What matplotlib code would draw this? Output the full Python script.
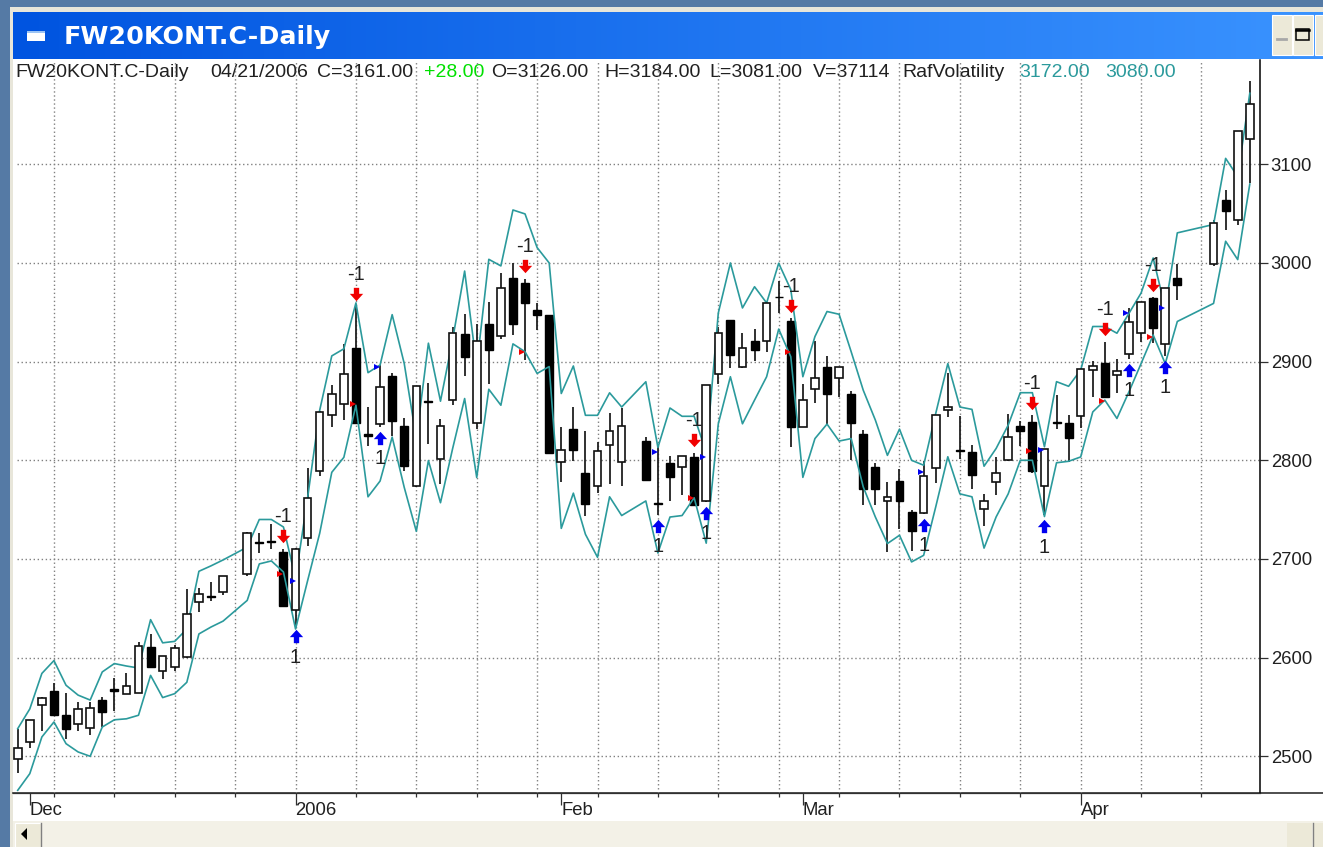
#!/usr/bin/python

# FW20KONT daily candles with the RafVolatility bands, in a trading-window frame

import matplotlib
matplotlib.use('Agg')
import matplotlib.pyplot as plt
from matplotlib.patches import Rectangle, Polygon
from matplotlib.path import Path
from matplotlib.transforms import offset_copy
import numpy as np

plt.rcParams['font.family'] = ['Liberation Sans', 'DejaVu Sans']
plt.rcParams['lines.scale_dashes'] = False

W, H = 1323, 847

# days without a bar are left empty on the x axis
no_bar = [18, 51, 97, 98]
days = [i for i in range(103) if i not in no_bar]

opens = [2497, 2514.5, 2552, 2566.5, 2542, 2532.5, 2528.4, 2557.4, 2568, 2563.5,
         2564.5, 2610.5, 2586.5, 2590.5, 2601, 2656, 2662, 2667,
         2684.8, 2717.5, 2718.5, 2707, 2648, 2721.6,
         2788.8, 2846, 2857.5, 2914, 2826.5, 2836.7, 2885, 2834.4, 2773.8, 2860,
         2801.4, 2861.6, 2927.6, 2838, 2938.4, 2925.9, 2985, 2979.6, 2952, 2947,
         2798.3, 2831.6, 2786.7, 2774, 2815, 2798.6,
         2819.4, 2756.5, 2797.6, 2792.9, 2803, 2758.8, 2887.4, 2942.5, 2895,
         2921, 2920.4, 2966, 2941.5, 2834, 2872.3, 2894.6, 2883, 2867.5, 2827,
         2792.7, 2759, 2779, 2747.7, 2747, 2792.4, 2851, 2810.8, 2808.6, 2751,
         2778.5, 2800, 2834.7, 2838.7, 2774.4, 2838.5, 2837.4, 2845, 2891.5, 2899,
         2886, 2907.8, 2929.5, 2964, 2917.6, 2984.7,
         2999.3, 3063.7, 3044, 3126]
closes = [2508, 2536.5, 2559.5, 2541.5, 2528, 2548, 2548.6, 2544.6, 2566, 2571.6,
          2611.5, 2590.5, 2601.7, 2610, 2644, 2664, 2661, 2683,
          2726.7, 2716.5, 2717.5, 2652.7, 2710.5, 2761.6,
          2849.3, 2867, 2887.8, 2838, 2825, 2873.8, 2839.5, 2793.9, 2875, 2859,
          2834.4, 2929, 2904.8, 2920.4, 2912, 2975, 2937.8, 2959.9, 2947.3, 2807.5,
          2810.9, 2810.5, 2755.4, 2809.5, 2830, 2834.4,
          2780, 2755.5, 2783.3, 2804, 2754.8, 2876.5, 2929, 2906.5, 2913.6,
          2912, 2959, 2965, 2834, 2861.6, 2883.8, 2866.8, 2894.6, 2838, 2771.4,
          2771.4, 2762.6, 2759, 2728, 2784.3, 2845.5, 2853.6, 2809.8, 2785, 2758.5,
          2787, 2823.9, 2830, 2789, 2811.3, 2837.5, 2823, 2893, 2896, 2863.7,
          2890, 2939.7, 2960, 2933.6, 2975, 2977.3,
          3040.7, 3052.2, 3133.6, 3161]
highs = [2528, 2537, 2560, 2574, 2564, 2555, 2555, 2560, 2579, 2584.5,
         2616, 2623.6, 2602, 2613, 2670, 2671, 2677, 2683,
         2727, 2726, 2735, 2710.5, 2711, 2792,
         2849.5, 2876, 2918, 2956, 2854, 2896.6, 2888, 2843, 2875, 2878.6,
         2841.5, 2934.7, 2948, 2938.4, 2960.5, 2989.5, 3000, 2984, 2959.5, 2947,
         2834, 2854, 2830, 2818.4, 2848, 2853.4,
         2823.5, 2813, 2804, 2804, 2807.5, 2876.5, 2934.7, 2942.5, 2929,
         2933, 2959, 2982, 2944, 2877, 2920.6, 2905.8, 2894.6, 2870, 2830.6,
         2796.8, 2778, 2791, 2749.4, 2799.5, 2845.5, 2888, 2845, 2816, 2765.6,
         2803.6, 2847, 2839.8, 2845.9, 2811.3, 2866, 2846, 2893, 2900.7, 2920,
         2902.7, 2954, 2960, 2965.4, 2975, 2999,
         3044, 3073.6, 3133.6, 3184]
lows = [2483, 2508, 2526, 2541, 2518, 2526, 2522, 2530, 2546, 2563,
        2564, 2590, 2578, 2586, 2600, 2646, 2657.5, 2663,
        2683, 2706, 2710.5, 2652, 2633, 2713,
        2784.4, 2833.7, 2840.5, 2838, 2814, 2834, 2825, 2788.8, 2773, 2816.7,
        2776, 2855.8, 2885.7, 2832, 2877.6, 2922.8, 2926.5, 2901.7, 2932.3, 2806.5,
        2777.6, 2799.7, 2743.5, 2766.7, 2775.8, 2773.5,
        2780, 2745, 2758.8, 2765, 2754, 2758, 2877, 2894, 2894,
        2901, 2910, 2949, 2813, 2834, 2858.4, 2836.7, 2863.8, 2800, 2755,
        2754.5, 2707, 2730, 2708, 2746, 2776.5, 2843.5, 2801, 2771.4, 2733,
        2764.6, 2799, 2814.7, 2787.3, 2744.3, 2831.3, 2798.5, 2833, 2863.7, 2863,
        2867.8, 2903, 2919.7, 2918.6, 2905.8, 2962,
        2996.6, 3032.9, 3038.6, 3081]

band_upper = [2528, 2548, 2584, 2597, 2572, 2562, 2557, 2585.5, 2594, 2591.5,
              2589.5, 2638.5, 2615, 2616.5, 2629, 2687.5, 2693, 2699,
              2712, 2740, 2740, 2732.4, 2680, 2762,
              2850.7, 2905.8, 2913, 2959.5, 2888.8, 2896.6, 2947.6, 2898, 2821.8, 2918.7,
              2859.9, 2922, 2991.8, 2895, 3003.7, 2997, 3053.7, 3049.7, 3015.6, 3000,
              2867.7, 2895.6, 2845.6, 2845.6, 2868.4, 2854,
              2879.6, 2813, 2853, 2844.6, 2844.6, 2808, 2949.3, 3000, 2954.4,
              2975.9, 2959.5, 2999.7, 2973, 2884.7, 2925.4, 2950.8, 2948, 2910, 2871,
              2840.8, 2805, 2831.6, 2800, 2795, 2847.5, 2898, 2854, 2851.6, 2794,
              2812, 2835.7, 2868.5, 2868.5, 2813.7, 2879.7, 2875, 2891.5, 2935.6, 2935.6,
              2928.8, 2949, 2969.5, 3005, 2954, 3030.5,
              3039, 3106, 3087.5, 3172]
band_lower = [2465.5, 2482.4, 2519.6, 2534.8, 2512.8, 2504.4, 2500, 2529.7, 2537, 2538,
              2541.6, 2582, 2559.5, 2563.5, 2575, 2624, 2631, 2637,
              2658, 2695, 2698, 2686.8, 2629, 2678,
              2726, 2787.8, 2803, 2855.8, 2763, 2779, 2823.5, 2772.5, 2728, 2799.7,
              2757, 2811.6, 2862.6, 2782.6, 2872, 2855.8, 2918, 2910, 2888, 2895,
              2731, 2766.7, 2725, 2701.7, 2763, 2744,
              2758.8, 2706, 2742.5, 2744, 2762, 2716, 2837, 2884.7, 2837,
              2861, 2884.7, 2933, 2905, 2782.7, 2822, 2836.7, 2819.5, 2822, 2773,
              2742.6, 2715.6, 2724, 2697, 2703.7, 2752.8, 2803.6, 2766, 2763, 2711,
              2742.6, 2766, 2800, 2800, 2743, 2797.5, 2799, 2803.4, 2849, 2861,
              2842.4, 2869.5, 2898, 2927, 2898, 2940.7,
              2959, 3022, 3003.4, 3080]

# signals: red arrows sit over the high, blue ones under the low
sell_days = [22, 28, 42, 56, 64, 84, 90, 94]
buy_days = [23, 30, 53, 57, 75, 85, 92, 95]
sell_marks = [2684.5, 2857.5, 2909.5, 2761.6, 2909.5, 2809, 2860, 2924.7]
buy_marks = [2678, 2895, 2808, 2803, 2788.5, 2810, 2949, 2954]

price_ticks = [2500, 2600, 2700, 2800, 2900, 3000, 3100]
grid_days = list(range(3, 103, 5))
month_days = [1, 23, 45, 65, 88]
month_labels = ['Dec', '2006', 'Feb', 'Mar', 'Apr']

TEAL = '#2b9a9c'
BEIGE = '#ece9d8'

header = [(15, 'FW20KONT.C-Daily', '#202020'), (210, '04/21/2006', '#202020'),
          (317, 'C=3161.00', '#202020'), (424, '+28.00', '#00e000'),
          (491, 'O=3126.00', '#202020'), (604, 'H=3184.00', '#202020'),
          (709, 'L=3081.00', '#202020'), (813, 'V=37114', '#202020'),
          (902, 'RafVolatility', '#202020'), (1019, '3172.00', TEAL), (1105, '3080.00', TEAL)]

fig = plt.figure(figsize=(W / 100, H / 100), dpi=100, facecolor='#557aa5')

# window frame, in pixels
frame = fig.add_axes([0, 0, 1, 1], zorder=0)
frame.set_xlim(0, W)
frame.set_ylim(H, 0)
frame.axis('off')
frame.add_patch(Rectangle((10, 7), W, H, fc='#e8e6da', ec='none'))
frame.add_patch(Rectangle((13, 12), W, H, fc='white', ec='none'))
grad = np.linspace(0, 1, 256).reshape(1, -1)
title_cmap = matplotlib.colors.LinearSegmentedColormap.from_list('t', ['#0054e0', '#3a93ff'])
frame.imshow(grad, extent=(13, W, 59, 12), cmap=title_cmap, aspect='auto', zorder=1)
frame.set_xlim(0, W)
frame.set_ylim(H, 0)
frame.add_patch(Rectangle((27, 31), 18, 10, fc='white', ec='none', zorder=2))
frame.add_patch(Rectangle((27, 31), 18, 2, fc='#9cc4f4', ec='none', zorder=2))
frame.text(64, 37, 'FW20KONT.C-Daily', color='white', fontsize=18.3, fontweight='bold',
           family='DejaVu Sans', va='center', zorder=3)

# title buttons
frame.add_patch(Rectangle((1272, 15), 20, 40, fc=BEIGE, ec='#ffffff', lw=0.8, zorder=2))
frame.add_patch(Rectangle((1293, 15), 20, 40, fc=BEIGE, ec='#ffffff', lw=0.8, zorder=2))
frame.add_patch(Rectangle((1315, 15), 10, 40, fc=BEIGE, ec='#ffffff', lw=0.8, zorder=2))
frame.plot([1277, 1286], [39, 39], color='#a8a8a8', lw=2, zorder=3)
frame.add_patch(Rectangle((1296, 29), 13, 11, fc='none', ec='k', lw=1.1, zorder=3))
frame.plot([1296, 1309], [30, 30], color='k', lw=1.8, zorder=3)

# scroll bar
frame.add_patch(Rectangle((13, 821), W, 26, fc='#f3f1e7', ec='none', zorder=1))
frame.add_patch(Rectangle((15, 823), 26, 24, fc=BEIGE, ec='#ffffff', lw=0.8, zorder=2))
frame.plot([41, 41], [823, 847], color='#808080', lw=1, zorder=3)
frame.add_patch(Polygon([[21, 834], [27, 828], [27, 840]], fc='k', ec='none', zorder=3))
frame.add_patch(Rectangle((1287, 823), 25, 24, fc=BEIGE, ec='none', zorder=2))
frame.add_patch(Rectangle((1314, 823), 12, 24, fc=BEIGE, ec='none', zorder=2))
frame.plot([1313, 1313], [823, 847], color='#808080', lw=1, zorder=3)

# the bottom rule runs on past the price axis
frame.plot([13, W], [793.5, 793.5], color='#303030', lw=1.2, zorder=3)

for xpos, txt, col in header:
    frame.text(xpos, 72.5, txt, color=col, fontsize=14, va='center', zorder=6)

# chart
x0, x1, y0, y1 = 13, 1260.3, 60, 793.3
ax = fig.add_axes([x0 / W, 1 - y1 / H, (x1 - x0) / W, (y1 - y0) / H], zorder=2)
ax.patch.set_alpha(0)
ax.set_xlim(-0.39, 102.87)
ax.set_ylim(2462.5, 3205.7)
for s in ['top', 'left']:
    ax.spines[s].set_visible(False)
ax.spines['right'].set_color('k')
ax.spines['right'].set_linewidth(1.1)
ax.spines['bottom'].set_color('#303030')
ax.spines['bottom'].set_linewidth(0.9)

ax.yaxis.tick_right()
ax.set_yticks(price_ticks)
ax.tick_params(axis='y', length=6, width=0.9, pad=1.5, labelsize=13.3, color='#303030',
               labelcolor='#202020')
ax.set_xticks(month_days)
ax.set_xticklabels(month_labels, ha='left', fontsize=13.3, color='#202020')
ax.set_xticks(grid_days, minor=True)
ax.tick_params(axis='x', which='major', length=8.6, width=0.9, pad=-2, color='#303030')
ax.tick_params(axis='x', which='minor', length=3.2, width=0.9, color='#303030')

dots = (0, (1.0, 1.9))
ax.hlines(price_ticks, -0.05, 102.87, color='#808080', lw=1.0, linestyles=[dots], zorder=1)
ax.vlines(grid_days, 2462.5, 3205.7, color='#808080', lw=1.0, linestyles=[dots], zorder=1)

# candles; bands go over black bodies but behind the white ones
days_a = np.array(days)
o = np.array(opens)
c = np.array(closes)
up = c > o
ax.vlines(days_a, lows, highs, color='#202020', lw=1.3, zorder=2)
ax.bar(days_a[~up], (o - c)[~up], bottom=c[~up], width=0.66, color='k', edgecolor='k',
       linewidth=1.0, zorder=2.5)

ax.plot(days, band_upper, color=TEAL, lw=1.2, zorder=3)
ax.plot(days, band_lower, color=TEAL, lw=1.2, zorder=3)

ax.bar(days_a[up], (c - o)[up], bottom=o[up], width=0.63, color='white', edgecolor='#101010',
       linewidth=1.2, zorder=4)

# signal arrows
down_arrow = Path([(-0.2, 0.5), (0.2, 0.5), (0.2, 0.05), (0.5, 0.05), (0, -0.5),
                   (-0.5, 0.05), (-0.2, 0.05), (-0.2, 0.5)], closed=True)
up_arrow = Path([(-0.2, -0.5), (0.2, -0.5), (0.2, -0.05), (0.5, -0.05), (0, 0.5),
                 (-0.5, -0.05), (-0.2, -0.05), (-0.2, -0.5)], closed=True)
sell_hi = [highs[days.index(d)] for d in sell_days]
buy_lo = [lows[days.index(d)] for d in buy_days]
above = offset_copy(ax.transData, fig=fig, y=12.5, units='dots')
below = offset_copy(ax.transData, fig=fig, y=-11, units='dots')
ax.plot(sell_days, sell_hi, ls='none', marker=down_arrow, ms=9.6, color='#f00000', mew=0,
        transform=above, zorder=5)
ax.plot(buy_days, buy_lo, ls='none', marker=up_arrow, ms=9.6, color='#0000f0', mew=0,
        transform=below, zorder=5)

for d, v in zip(sell_days, sell_hi):
    ax.annotate('-1', (d, v), xytext=(0, 32), textcoords='offset pixels', ha='center',
                va='center', fontsize=14.5, color='#202020', zorder=6)
for d, v in zip(buy_days, buy_lo):
    ax.annotate('1', (d, v), xytext=(0, -32), textcoords='offset pixels', ha='center',
                va='center', fontsize=14.5, color='#202020', zorder=6)

# little flags on the bands
left = offset_copy(ax.transData, fig=fig, x=-3, units='dots')
ax.plot(sell_days, sell_marks, ls='none', marker='>', ms=4.5, color='#f00000', mew=0,
        transform=left, zorder=6)
ax.plot(buy_days, buy_marks, ls='none', marker='>', ms=4.5, color='#0000f0', mew=0,
        transform=left, zorder=6)

fig.savefig('out.png', dpi=100)
